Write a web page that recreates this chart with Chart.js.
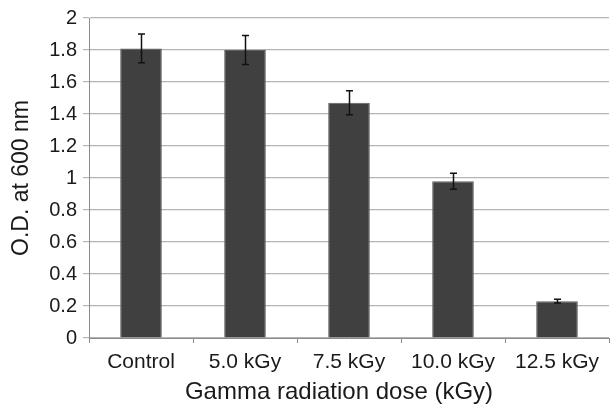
<!DOCTYPE html>
<html>
<head>
<meta charset="utf-8">
<script src="https://cdn.jsdelivr.net/npm/chart.js@4"></script>
<style>
  html, body { margin: 0; padding: 0; background: #fff; }
  #wrap { width: 613px; height: 406px; }
</style>
</head>
<body>
<div id="wrap"><canvas id="odChart" width="613" height="406"></canvas></div>
<script>
// Optical density after gamma irradiation
const doses = ['Control', '5.0 kGy', '7.5 kGy', '10.0 kGy', '12.5 kGy'];
const odValues = [1.81, 1.80, 1.47, 0.98, 0.23];
const odErrors = [0.09, 0.09, 0.075, 0.05, 0.012];
const yTicks = [0, 0.2, 0.4, 0.6, 0.8, 1, 1.2, 1.4, 1.6, 1.8, 2];

// draw error bars on top of the bars
const errorBars = {
    id: 'errorBars',
    afterDatasetsDraw(chart) {
        const c = chart.ctx;
        const y = chart.scales.y;
        const meta = chart.getDatasetMeta(0);
        c.save();
        c.strokeStyle = '#111';
        c.lineWidth = 1.5;
        meta.data.forEach((bar, i) => {
            const top = y.getPixelForValue(odValues[i] + odErrors[i]);
            const bot = y.getPixelForValue(odValues[i] - odErrors[i]);
            const x = Math.round(bar.x) + 0.5;
            c.beginPath();
            c.moveTo(x, top); c.lineTo(x, bot);
            c.moveTo(x - 3.5, top); c.lineTo(x + 3.5, top);
            c.moveTo(x - 3.5, bot); c.lineTo(x + 3.5, bot);
            c.stroke();
        });
        c.restore();
    }
};

new Chart(document.getElementById('odChart'), {
    type: 'bar',
    data: {
        labels: doses,
        datasets: [{
            data: odValues,
            backgroundColor: '#404040',
            borderColor: '#5e5e5e',
            borderWidth: 1,
            categoryPercentage: 1,
            barPercentage: 0.4
        }]
    },
    options: {
        responsive: false,
        animation: false,
        layout: { padding: { top: 17, right: 4, left: 0, bottom: 0 } },
        plugins: { legend: { display: false }, tooltip: { enabled: false } },
        scales: {
            x: {
                afterFit: s => { s.height = 68; },
                grid: { drawOnChartArea: false, drawTicks: true, tickLength: 5, color: '#8c8c8c', offset: true },
                border: { color: '#8c8c8c' },
                ticks: { color: '#1a1a1a', padding: 7, font: { family: 'Liberation Sans, Arial', size: 21 }, maxRotation: 0 },
                title: {
                    display: true,
                    // trailing spaces nudge the centred title a bit left, as in the original
                    text: 'Gamma radiation dose (kGy)   ',
                    color: '#1a1a1a',
                    font: { family: 'Liberation Sans, Arial', size: 24 },
                    padding: { top: 0, bottom: -1 }
                }
            },
            y: {
                min: 0,
                max: 2,
                afterFit: s => { s.width = 89; },
                afterBuildTicks: s => { s.ticks = yTicks.map(v => ({ value: v })); },
                grid: { color: '#b4b4b4', tickLength: 6, lineWidth: 1.2 },
                border: { color: '#8c8c8c' },
                ticks: {
                    color: '#1a1a1a',
                    padding: 6,
                    font: { family: 'Liberation Sans, Arial', size: 20 },
                    callback: v => String(v)
                },
                title: {
                    display: true,
                    text: 'O.D. at 600 nm',
                    color: '#1a1a1a',
                    font: { family: 'Liberation Sans, Arial', size: 23 },
                    padding: { top: 8, bottom: 0 }
                }
            }
        }
    },
    plugins: [errorBars]
});
</script>
</body>
</html>
